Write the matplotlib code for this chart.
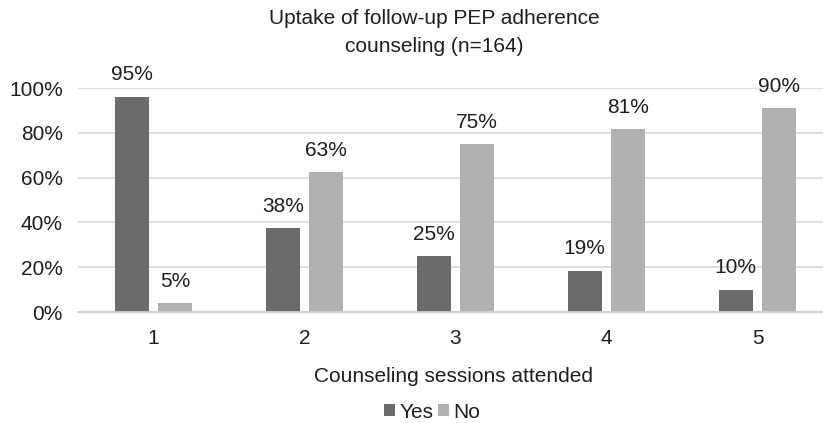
import numpy as np
import matplotlib
matplotlib.use("Agg")
import matplotlib.pyplot as plt

plt.rcParams['font.family'] = ['Liberation Sans', 'DejaVu Sans']

# data
sessions = ['1', '2', '3', '4', '5']
yes_vals = [96, 37.5, 25, 18.5, 10]
no_vals = [4, 62.5, 75, 81.5, 91]
yes_labels = ['95%', '38%', '25%', '19%', '10%']
no_labels = ['5%', '63%', '75%', '81%', '90%']
yticks = [0, 20, 40, 60, 80, 100]

W, H = 823, 423
fs = 15
txt = '#1e1e1e'
fig = plt.figure(figsize=(W / 100, H / 100), dpi=100)
ax = fig.add_axes([78 / W, (H - 312) / H, (W - 78) / W, 224 / H])

x = np.arange(1, len(sessions) + 1)
bw = 0.225
off = 0.144
yes_color = '#6b6b6d'
no_color = '#b1b1b3'
b1 = ax.bar(x - off, yes_vals, bw, color=yes_color, label='Yes', zorder=3)
b2 = ax.bar(x + off, no_vals, bw, color=no_color, label='No', zorder=3)

for xi, v, t in zip(x - off, yes_vals, yes_labels):
    ax.annotate(t, (xi, v), xytext=(0, 9), textcoords='offset points',
                ha='center', va='bottom', fontsize=fs, color=txt)
for xi, v, t in zip(x + off, no_vals, no_labels):
    ax.annotate(t, (xi, v), xytext=(0, 9), textcoords='offset points',
                ha='center', va='bottom', fontsize=fs, color=txt)

ax.set_xlim(0.5, 0.5 + (W - 78) / 151)
ax.set_ylim(0, 100)
ax.set_yticks(yticks)
ax.set_yticklabels([f'{t}%' for t in yticks], fontsize=fs, color=txt)
ax.set_xticks(x)
ax.set_xticklabels(sessions, fontsize=fs, color=txt)
ax.tick_params(length=0)
ax.tick_params(axis='x', pad=12)
ax.tick_params(axis='y', pad=11)
ax.yaxis.grid(True, color='#d9d9d9', linewidth=1.2, zorder=0)
for s in ['top', 'right', 'left']:
    ax.spines[s].set_visible(False)
ax.spines['bottom'].set_color('#cfcfcf')
ax.spines['bottom'].set_linewidth(1.3)
ax.spines['bottom'].set_zorder(4)

fig.text(434 / W, 1 - 18 / H, 'Uptake of follow-up PEP adherence', ha='center', va='center', fontsize=fs, color=txt)
fig.text(434 / W, 1 - 46 / H, 'counseling (n=164)', ha='center', va='center', fontsize=fs, color=txt)
fig.text(453 / W, 1 - 377 / H, 'Counseling sessions attended', ha='center', va='center', fontsize=fs, color=txt)

fig.legend(handles=[b1, b2], labels=['Yes', 'No'], loc='center', bbox_to_anchor=(432 / W, 1 - 412 / H),
           ncol=2, frameon=False, fontsize=fs, handlelength=0.55, handleheight=0.55,
           columnspacing=0.2, handletextpad=0.2, labelcolor=txt, borderpad=0)

fig.savefig('out.png', dpi=100)
